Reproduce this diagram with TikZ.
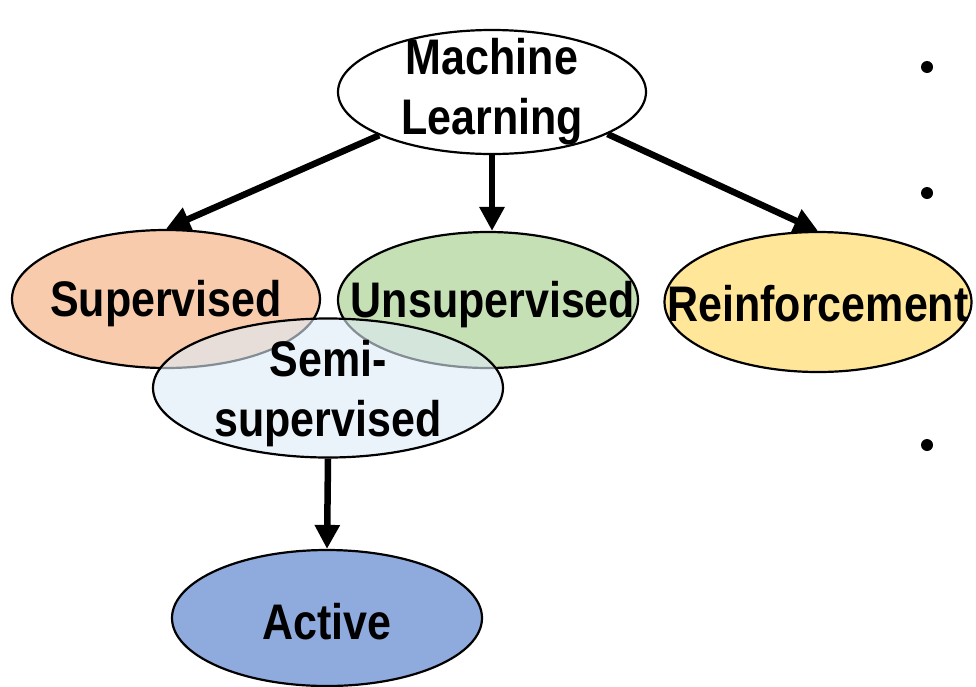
\documentclass[tikz,border=0pt]{standalone}
\usepackage{fontspec}
\setmainfont{Liberation Sans}
\newfontfamily\lblfont[FakeStretch=0.86]{Liberation Sans Bold}
\usetikzlibrary{shapes.geometric,arrows.meta}
\definecolor{supc}{HTML}{F8CBAD}
\definecolor{unsc}{HTML}{C5E0B4}
\definecolor{rnfc}{HTML}{FFE699}
\definecolor{semc}{HTML}{DEEBF7}
\definecolor{actc}{HTML}{8FAADC}
\begin{document}
\begin{tikzpicture}[x=1pt,y=-1pt,
  oval/.style={ellipse, draw=black, line width=2.2pt, inner sep=0pt},
  lbl/.style={font=\lblfont\fontsize{50}{60}\selectfont, align=center, text=black, text opacity=1, fill opacity=1, inner sep=0pt},
  conn/.style={line width=6.5pt, -{Triangle[length=24pt,width=24pt]}}]
\useasboundingbox (0,0) rectangle (976,686);
% nodes
\node[oval, fill=white, minimum width=308pt, minimum height=124pt,
  label={[lbl]center:Machine\\Learning}] (ml) at (492,92) {};
\node[oval, fill=supc, minimum width=308pt, minimum height=138pt,
  label={[lbl,yshift=-5pt]center:Supervised}] (sup) at (166,299) {};
\node[oval, fill=unsc, minimum width=300pt, minimum height=136pt,
  label={[lbl,xshift=5pt,yshift=-5pt]center:Unsupervised}] (uns) at (488,300) {};
\node[oval, fill=rnfc, minimum width=307pt, minimum height=140pt,
  label={[lbl,yshift=-2pt]center:Reinforcement}] (rnf) at (818,302) {};
\node[oval, fill=semc, fill opacity=0.6, minimum width=350pt, minimum height=139pt,
  label={[lbl,yshift=-6pt]center:Semi-\\supervised}] (sem) at (328,388) {};
\node[oval, fill=actc, minimum width=310pt, minimum height=136pt,
  label={[lbl,yshift=-4pt]center:Active}] (act) at (327,618) {};
% bullets
\fill (927,67) circle (6pt) coordinate (b1);
\fill (927,193) circle (6pt) coordinate (b2);
\fill (927,445) circle (6pt) coordinate (b3);
% connectors
\draw[conn] (ml.201) -- (sup.north);
\draw[conn] (ml.south) -- (ml.south |- uns.north);
\draw[conn] (ml.340) -- (rnf.north);
\draw[conn] (sem.south) -- (act.north);
\end{tikzpicture}
\end{document}
